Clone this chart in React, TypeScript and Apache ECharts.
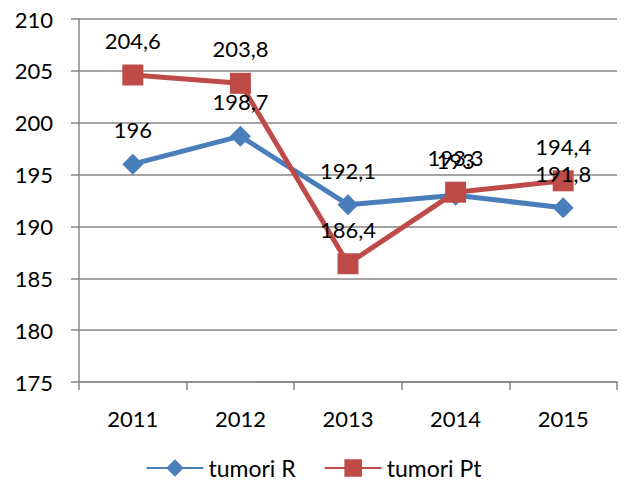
import React, { useEffect, useRef } from "react";
import * as echarts from "echarts";

const categories = ["2011", "2012", "2013", "2014", "2015"];
const tumoriR = [196, 198.7, 192.1, 193, 191.8];
const tumoriPt = [204.6, 203.8, 186.4, 193.3, 194.4];
const seriesNames = ["tumori R", "tumori Pt"];

const FONT = "Lato, 'Liberation Sans', sans-serif";
const fmt = (v: number) => String(v).replace(".", ",");

export default function App() {
  const ref = useRef<HTMLDivElement>(null);
  useEffect(() => {
    if (!ref.current) return;
    const chart = echarts.init(ref.current, undefined, { renderer: "svg" });
    const labelCfg = {
      show: true,
      position: "top",
      distance: 13,
      color: "#000",
      fontSize: 22,
      fontFamily: FONT,
      formatter: (p: any) => fmt(p.value),
    };
    chart.setOption({
      animation: false,
      backgroundColor: "#fff",
      textStyle: { fontFamily: FONT },
      grid: { left: 79, right: 10, top: 19, bottom: 105 },
      legend: {
        top: 453,
        left: "center",
        padding: 3,
        itemWidth: 57,
        itemHeight: 22,
        itemGap: 28,
        textStyle: { fontSize: 23, color: "#000", fontFamily: FONT, lineHeight: 24 },
        data: seriesNames,
      },
      xAxis: {
        type: "category",
        data: categories,
        boundaryGap: true,
        axisLine: { lineStyle: { color: "#868686", width: 1.5 } },
        axisTick: { show: true, length: 8, lineStyle: { color: "#868686", width: 1.5 } },
        axisLabel: { color: "#000", fontSize: 22, fontFamily: FONT, margin: 25 },
      },
      yAxis: {
        type: "value",
        min: 175,
        max: 210,
        interval: 5,
        axisLine: { show: true, lineStyle: { color: "#868686", width: 1.5 } },
        axisTick: { show: true, length: 8, lineStyle: { color: "#868686", width: 1.5 } },
        axisLabel: { color: "#000", fontSize: 22, fontFamily: FONT, margin: 26 },
        splitLine: { lineStyle: { color: "#868686", width: 1.5 } },
      },
      series: [
        {
          name: seriesNames[0],
          type: "line",
          data: tumoriR,
          symbol: "diamond",
          symbolSize: 21,
          lineStyle: { color: "#4A7EBB", width: 5 },
          itemStyle: { color: "#4A7EBB" },
          label: labelCfg,
          z: 2,
        },
        {
          name: seriesNames[1],
          type: "line",
          data: tumoriPt,
          symbol: "rect",
          symbolSize: 21,
          lineStyle: { color: "#BE4B48", width: 5 },
          itemStyle: { color: "#BE4B48" },
          label: labelCfg,
          z: 2,
        },
      ],
    });
    return () => chart.dispose();
  }, []);
  return <div ref={ref} style={{ width: 627, height: 487, position: "absolute", left: 0, top: 0 }} />;
}
